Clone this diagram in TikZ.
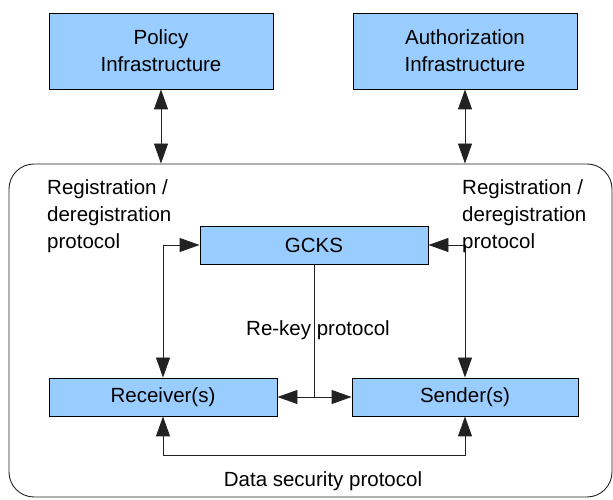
\documentclass[tikz,border=0pt]{standalone}
\usepackage{fontspec}
\setmainfont{Liberation Sans}
\usetikzlibrary{arrows.meta}
\definecolor{boxblue}{HTML}{99CCFF}
\definecolor{wire}{HTML}{222222}
\begin{document}
\begin{tikzpicture}[x=1pt,y=1pt,
  font=\fontsize{20.5}{27}\selectfont,
  box/.style={draw=black, fill=boxblue, line width=0.9pt, inner sep=0pt, align=center},
  link/.style={draw=wire, line width=0.9pt},
  head/.tip={Triangle[length=20pt,width=14pt]},
  oneway/.style={link, -head},
  twoway/.style={link, head-head},
  lbl/.style={inner sep=0pt, align=left}]
\useasboundingbox (0,0) rectangle (613,500);

% outer domain frame
\node[draw=wire, line width=0.9pt, rounded corners=25pt, minimum width=603pt,
      minimum height=333pt, inner sep=0pt] (frame) at (310.5,169.5) {};

% external infrastructures
\node[box, minimum width=224pt, minimum height=76pt] (pol) at (161,449) {Policy\\Infrastructure};
\node[box, minimum width=224pt, minimum height=76pt] (auth) at (465,449) {Authorization\\Infrastructure};

% group members and key server
\node[box, minimum width=228pt, minimum height=38pt] (gcks) at (314,255) {GCKS};
\node[box, minimum width=228pt, minimum height=38pt] (rec) at (163,103) {Receiver(s)};
\node[box, minimum width=226pt, minimum height=38pt] (snd) at (465,103) {Sender(s)};

% links to infrastructures
\draw[twoway] (pol.south) -- (pol.south |- frame.north);
\draw[twoway] (auth.south) -- (auth.south |- frame.north);

% registration / deregistration
\draw[twoway] (rec.north) |- (gcks.west);
\draw[twoway] (snd.north) |- (gcks.east);

% re-key
\coordinate (rk) at (gcks.south |- rec.east);
\draw[link] (gcks.south) -- (rk);
\draw[twoway] (rec.east) -- (snd.west);

% data security
\draw[twoway] (rec.south) -- ++(0,-39) -| (snd.south);

% labels
\node[lbl, anchor=north west] (regl) at (47,321) {Registration /\\deregistration\\protocol};
\node[lbl, anchor=north west] (regr) at (462,321) {Registration /\\deregistration\\protocol};
\node[inner sep=0pt] (rklbl) at (318,170) {Re-key protocol};
\node[inner sep=0pt] (dslbl) at (323,19) {Data security protocol};
\end{tikzpicture}
\end{document}
